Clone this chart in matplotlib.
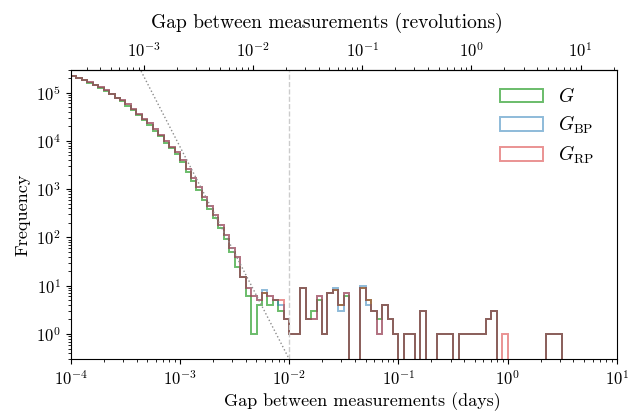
import numpy as np
import matplotlib
matplotlib.use("Agg")
import matplotlib.pyplot as plt

plt.rcParams['font.family'] = 'serif'
plt.rcParams['font.serif'] = ['cmr10']
plt.rcParams['mathtext.fontset'] = 'cm'
plt.rcParams['axes.formatter.use_mathtext'] = True
plt.rcParams['axes.unicode_minus'] = False

# log-spaced bins: 20 per decade from 1e-4 days
bin_lo_exp = -4.0
bins_per_decade = 20
n_bins = 90

counts_rp = [2.23e5, 2.03e5, 1.82e5, 1.63e5, 1.45e5, 1.28e5, 1.11e5, 9.6e4, 7.9e4, 6.9e4,
             5.7e4, 4.55e4, 3.7e4, 2.9e4, 2.3e4, 1.75e4, 1.34e4, 1.0e4, 7.6e3, 5.8e3,
             4.0e3, 2.6e3, 1.7e3, 1.1e3, 700, 450, 290, 180, 112, 60,
             40, 15, 9, 6, 5, 7, 6, 5, 5, 2,
             1, 1, 9, 2, 2, 6, 1, 7, 8, 4,
             7, 0, 0, 9, 5, 3, 1, 4, 2, 1,
             0, 1, 1, 0, 3, 0, 0, 1, 1, 1,
             0, 1, 1, 1, 1, 1, 2, 3, 0, 1,
             0, 0, 0, 0, 0, 0, 0, 1, 1, 1]
counts_bp = [2.23e5, 2.03e5, 1.82e5, 1.63e5, 1.45e5, 1.28e5, 1.11e5, 9.6e4, 7.9e4, 6.9e4,
             5.7e4, 4.55e4, 3.7e4, 2.9e4, 2.3e4, 1.75e4, 1.34e4, 1.0e4, 7.6e3, 5.8e3,
             4.0e3, 2.6e3, 1.7e3, 1.1e3, 700, 450, 290, 180, 112, 60,
             40, 15, 9, 6, 5, 8, 6, 5, 4, 2,
             1, 1, 9, 2, 2, 6, 1, 7, 9, 3,
             7, 0, 0, 10, 4, 3, 1, 4, 2, 1,
             0, 1, 1, 0, 3, 0, 0, 1, 1, 1,
             0, 1, 1, 1, 1, 1, 2, 3, 0, 0,
             0, 0, 0, 0, 0, 0, 0, 1, 1, 1]
counts_g = [2.2e5, 2.0e5, 1.8e5, 1.6e5, 1.42e5, 1.25e5, 1.08e5, 9.3e4, 7.6e4, 6.6e4,
            5.4e4, 4.3e4, 3.5e4, 2.7e4, 2.15e4, 1.62e4, 1.24e4, 9.2e3, 7.0e3, 5.3e3,
            3.6e3, 2.3e3, 1.5e3, 950, 600, 390, 250, 160, 91, 50,
            25, 15, 6, 1, 4, 7, 4, 5, 3, 2,
            1, 1, 9, 2, 3, 5, 1, 7, 8, 4,
            6, 0, 0, 9, 5, 3, 2, 4, 2, 1,
            0, 1, 1, 0, 3, 0, 0, 1, 1, 1,
            0, 1, 1, 1, 1, 1, 2, 3, 0, 0,
            0, 0, 0, 0, 0, 0, 0, 1, 1, 1]

x_ticks_days = [1e-4, 1e-3, 1e-2, 1e-1, 1e0, 1e1]
x_ticks_rev = [1e-3, 1e-2, 1e-1, 1e0, 1e1]
y_ticks = [1e0, 1e1, 1e2, 1e3, 1e4, 1e5]

period_days = 0.465         # days per revolution (top axis)
dashed_at = 1e-2            # vertical reference line (days)
powerlaw_slope = -4.4       # dotted reference power law
powerlaw_ref = (1e-2, 0.3)  # point on the dotted power law

edges = 10 ** (bin_lo_exp + np.arange(n_bins + 1) / bins_per_decade)
centers = np.sqrt(edges[:-1] * edges[1:])

fig = plt.figure(figsize=(6.38, 4.12), dpi=100)
ax = fig.add_axes([0.111, 0.128, 0.856, 0.703])
ax.set_xscale('log')
ax.set_yscale('log')

series = [(counts_g, '#2ca02c', 0.7, r'$G$'),
          (counts_bp, '#1f77b4', 0.5, r'$G_\mathrm{BP}$'),
          (counts_rp, '#d62728', 0.5, r'$G_\mathrm{RP}$')]
for vals, col, a, lab in series:
    ax.hist(centers, bins=edges, weights=vals, histtype='step', color=col,
            alpha=a, lw=1.4, label=lab)

xx = np.logspace(-4, -2, 100)
yy = powerlaw_ref[1] * (xx / powerlaw_ref[0]) ** powerlaw_slope
ax.plot(xx, yy, ls=':', color='0.55', lw=1.0)
ax.axvline(dashed_at, color='0.8', ls='--', lw=1.0)

ax.set_xticks(x_ticks_days)
ax.set_yticks(y_ticks)
ax.set_xlim(1e-4, 10)
ax.set_ylim(0.3, 3e5)
ax.tick_params(labelsize=12)
ax.set_xlabel('Gap between measurements (days)', fontsize=13)
ax.xaxis.set_label_coords(0.533, -0.115)
ax.set_ylabel('Frequency', fontsize=13)

sec = ax.secondary_xaxis('top', functions=(lambda d: d / period_days,
                                            lambda r: r * period_days))
sec.set_xticks(x_ticks_rev)
sec.tick_params(labelsize=12)
sec.set_xlabel('Gap between measurements (revolutions)', fontsize=14)
sec.xaxis.set_label_coords(0.469, 1.145, transform=ax.transAxes)

ax.legend(loc='upper right', frameon=False, fontsize=14,
          bbox_to_anchor=(0.99, 1.0), handlelength=2.2, labelspacing=0.4)

fig.savefig('out.png', dpi=100)
